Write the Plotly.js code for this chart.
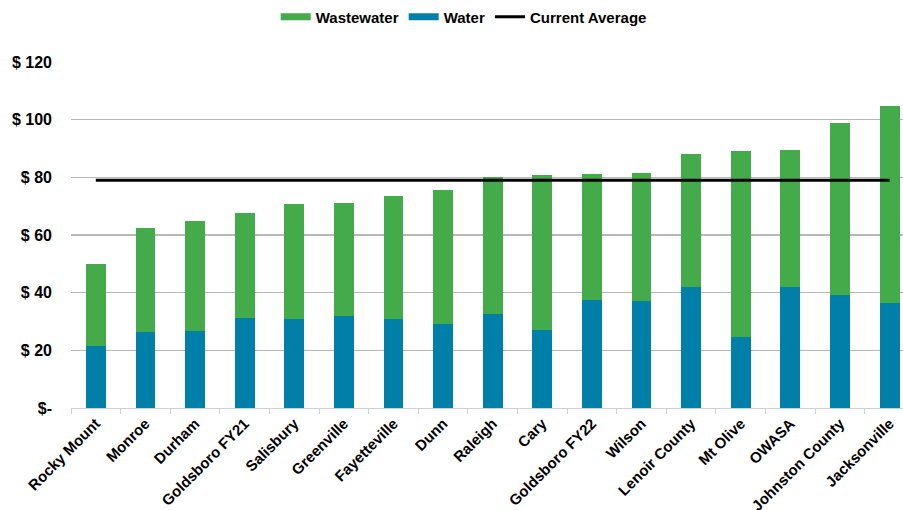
<!DOCTYPE html>
<html>
<head>
<meta charset="utf-8">
<script src="https://cdn.plot.ly/plotly-3.0.1.min.js"></script>
<style>html,body{margin:0;padding:0;background:#fff;}#chart{width:903px;height:510px;}</style>
</head>
<body>
<div id="chart"></div>
<script>
var cities = ['Rocky Mount','Monroe','Durham','Goldsboro FY21','Salisbury','Greenville','Fayetteville','Dunn','Raleigh','Cary','Goldsboro FY22','Wilson','Lenoir County','Mt Olive','OWASA','Johnston County','Jacksonville'];
var water = [21.6,26.2,26.7,31.2,30.7,31.9,31.0,29.3,32.7,27.0,37.5,37.2,41.9,24.7,41.9,39.3,36.4];
var wastewater = [28.5,36.4,38.0,36.4,40.2,39.3,42.4,46.3,47.3,53.9,43.7,44.3,46.2,64.4,47.5,59.4,68.3];
var avgX = ['Rocky Mount','Jacksonville'];
var avgY = [79.0,79.0];
var yTickVals = [0,20,40,60,80,100,120];
var yTickText = ['$-','$ 20','$ 40','$ 60','$ 80','$ 100','$ 120'];

var FAM = 'Arial, "Liberation Sans", sans-serif';
var greenC = '#43AB4A', blueC = '#0080A8';

var traces = [
  {type:'bar', name:'Water', x:cities, y:water, marker:{color:blueC}, showlegend:false},
  {type:'bar', name:'Wastewater', x:cities, y:wastewater, marker:{color:greenC}, showlegend:false},
  {type:'scatter', mode:'lines', name:'Current Average', x:avgX, y:avgY, line:{color:'#000', width:3}, legendrank:3},
  {type:'scatter', mode:'lines', name:'Wastewater', x:[null], y:[null], line:{color:greenC, width:7}, legendrank:1},
  {type:'scatter', mode:'lines', name:'Water', x:[null], y:[null], line:{color:blueC, width:7}, legendrank:2}
];

var layout = {
  width:903, height:510,
  margin:{l:71, r:0, t:62, b:102},
  barmode:'stack',
  bargap:0.6,
  paper_bgcolor:'#fff', plot_bgcolor:'#fff',
  showlegend:true,
  legend:{orientation:'h', x:0.472, xanchor:'center', y:1.13, yanchor:'middle',
          font:{family:FAM, size:15, color:'#000', weight:'bold'},
          itemwidth:30, traceorder:'normal', tracegroupgap:0},
  xaxis:{type:'category', range:[-0.5,16.27], tickangle:-45,
         tickfont:{family:FAM, size:15, color:'#000', weight:'bold'},
         showline:true, linecolor:'#d0d0d0', linewidth:1,
         ticks:'outside', tickson:'boundaries', ticklen:5, tickcolor:'#d0d0d0',
         showgrid:false, fixedrange:true},
  yaxis:{range:[0,120], tickvals:yTickVals, ticktext:yTickText,
         tickfont:{family:FAM, size:16, color:'#000', weight:'bold'},
         showgrid:true, gridcolor:'#b8b8b8', gridwidth:1.3, zeroline:false,
         ticklabelstandoff:18, fixedrange:true}
};
Plotly.newPlot('chart', traces, layout, {displayModeBar:false, staticPlot:true});
</script>
</body>
</html>
